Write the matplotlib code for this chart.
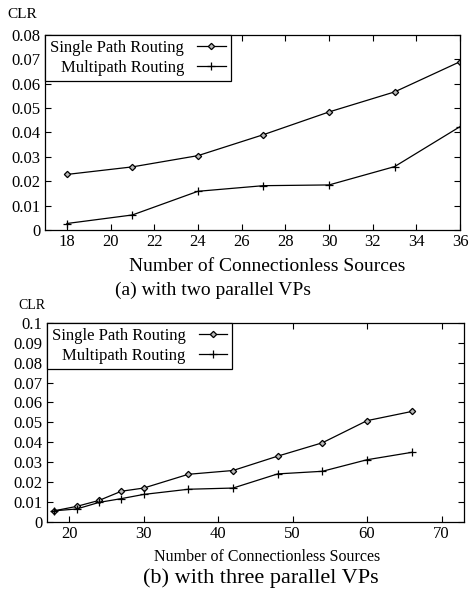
import matplotlib
matplotlib.use("Agg")
import matplotlib.pyplot as plt
from matplotlib.ticker import MultipleLocator

# (a) two parallel VPs
sources_a = [18, 21, 24, 27, 30, 33, 36]
single_a = [0.0228, 0.0259, 0.0305, 0.0391, 0.0484, 0.0566, 0.0690]
multi_a = [0.0027, 0.0062, 0.0159, 0.0182, 0.0185, 0.0260, 0.0424]

# (b) three parallel VPs
sources_b = [18, 21, 24, 27, 30, 36, 42, 48, 54, 60, 66]
single_b = [0.0057, 0.0079, 0.0109, 0.0155, 0.0171, 0.0240, 0.0259, 0.0331, 0.0398, 0.0509, 0.0555]
multi_b = [0.0057, 0.0066, 0.0099, 0.0118, 0.0139, 0.0165, 0.0171, 0.0242, 0.0255, 0.0313, 0.0350]

plt.rcParams['font.family'] = ['Liberation Serif', 'DejaVu Serif']


def style_axes(ax, fs):
    ax.tick_params(direction='in', top=True, right=True, length=4, width=0.8,
                   labelsize=fs, pad=3)
    for s in ax.spines.values():
        s.set_linewidth(0.9)


def draw(ax, x, s, m, fs_leg):
    ax.plot(x, s, color='black', lw=0.9, marker='D', ms=3.2, mfc='#bbbbbb',
            mec='black', mew=0.9, label='Single Path Routing')
    ax.plot(x, m, color='black', lw=0.9, marker='+', ms=5.5, mew=0.9,
            label='Multipath Routing')
    leg = ax.legend(loc='upper left', markerfirst=False, fancybox=False,
                    framealpha=1, edgecolor='black', borderaxespad=0,
                    fontsize=fs_leg, handlelength=1.7, handletextpad=0.8,
                    borderpad=0.3, labelspacing=0.25)
    leg.get_frame().set_linewidth(0.9)


fig = plt.figure(figsize=(4.69, 5.90), dpi=100)

ax1 = fig.add_axes([0.096, 0.610, 0.885, 0.331])
draw(ax1, sources_a, single_a, multi_a, 12)
ax1.set_xlim(17, 36)
ax1.set_ylim(0, 0.08)
ax1.set_xticks(range(18, 37, 2))
ax1.set_yticks([0, 0.01, 0.02, 0.03, 0.04, 0.05, 0.06, 0.07, 0.08])
ax1.set_yticklabels(['0', '0.01', '0.02', '0.03', '0.04', '0.05', '0.06', '0.07', '0.08'])
style_axes(ax1, 12)
ax1.set_xlabel('Number of Connectionless Sources', fontsize=14)
ax1.xaxis.set_label_coords(0.535, -0.145)

ax2 = fig.add_axes([0.100, 0.115, 0.889, 0.338])
draw(ax2, sources_b, single_b, multi_b, 12)
ax2.set_xlim(17, 73)
ax2.set_ylim(0, 0.1)
ax2.set_xticks([20, 30, 40, 50, 60, 70])
ax2.set_yticks([0, 0.01, 0.02, 0.03, 0.04, 0.05, 0.06, 0.07, 0.08, 0.09, 0.1])
ax2.set_yticklabels(['0', '0.01', '0.02', '0.03', '0.04', '0.05', '0.06', '0.07', '0.08', '0.09', '0.1'])
style_axes(ax2, 12)
ax2.set_xlabel('Number of Connectionless Sources', fontsize=11.5)
ax2.xaxis.set_label_coords(0.528, -0.135)

fig.text(0.048, 0.976, 'CLR', fontsize=11, ha='center', va='center')
fig.text(0.068, 0.483, 'CLR', fontsize=10, ha='center', va='center')
fig.text(0.455, 0.508, '(a) with two parallel VPs', fontsize=14, ha='center', va='center')
fig.text(0.557, 0.020, '(b) with three parallel VPs', fontsize=16, ha='center', va='center')

fig.savefig('out.png', dpi=100)
